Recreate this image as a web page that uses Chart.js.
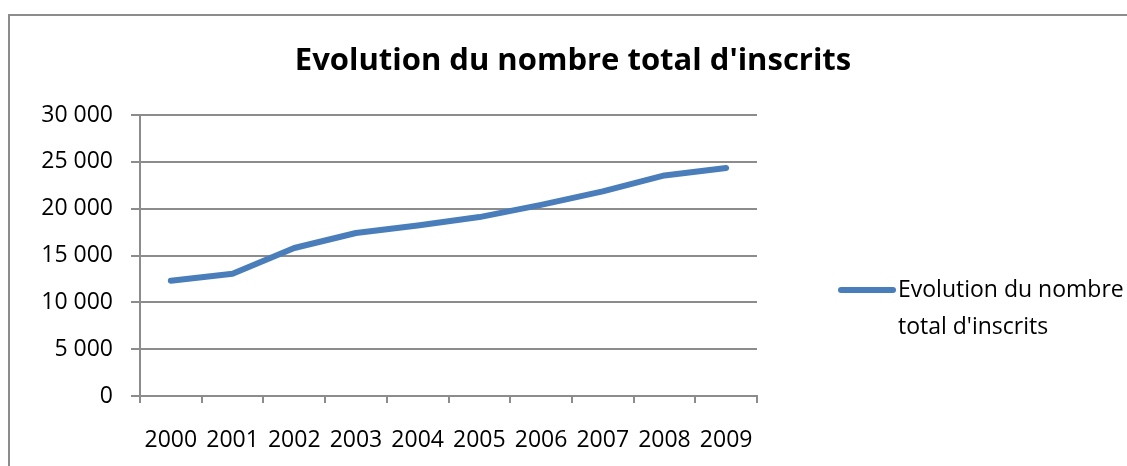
<!DOCTYPE html>
<html lang="fr">
    <head>
        <meta charset="UTF-8" />
        <title>Evolution du nombre total d'inscrits</title>
        <script src="https://cdn.jsdelivr.net/npm/chart.js"></script>
        <style>
            html, body { margin: 0; padding: 0; background: #fff; }
            #wrap { width: 1127px; height: 466px; }
        </style>
    </head>
    <body>
        <div id="wrap"><canvas id="myChart" width="1127" height="466"></canvas></div>

        <script>
            // Données
            const annees = ["2000", "2001", "2002", "2003", "2004", "2005", "2006", "2007", "2008", "2009"];
            const inscrits = [12300, 13050, 15800, 17400, 18200, 19100, 20400, 21850, 23550, 24350];
            const titre = "Evolution du nombre total d'inscrits";
            const legende = ["Evolution du nombre", "total d'inscrits"];

            const police = "'Open Sans', 'Noto Sans', sans-serif";
            const gris = "#8c8c8c";

            // cadre, titre et légende façon Excel
            const decor = {
                id: "decor",
                beforeDraw(chart) {
                    const c = chart.ctx;
                    c.save();
                    c.strokeStyle = gris;
                    c.lineWidth = 2;
                    c.strokeRect(9, 15, 1140, 470);
                    c.restore();
                },
                afterDraw(chart) {
                    const c = chart.ctx;
                    const ds = chart.data.datasets[0];
                    c.save();
                    c.fillStyle = "#000";
                    c.font = "bold 31px " + police;
                    c.textAlign = "center";
                    c.textBaseline = "middle";
                    c.fillText(titre, 573, 61);

                    c.strokeStyle = ds.borderColor;
                    c.lineWidth = ds.borderWidth;
                    c.lineCap = "round";
                    c.beginPath();
                    c.moveTo(841, 290);
                    c.lineTo(893, 290);
                    c.stroke();
                    c.font = "23px " + police;
                    c.textAlign = "left";
                    c.fillText(legende[0], 898, 290);
                    c.fillText(legende[1], 898, 327);
                    c.restore();
                },
            };

            var ctx = document.getElementById("myChart").getContext("2d");
            var myChart = new Chart(ctx, {
                type: "line",
                data: {
                    labels: annees,
                    datasets: [
                        {
                            label: titre,
                            data: inscrits,
                            borderColor: "#4a7ebb",
                            borderWidth: 6,
                            pointRadius: 0,
                            fill: false,
                            tension: 0,
                            borderCapStyle: "round",
                            borderJoinStyle: "round",
                        },
                    ],
                },
                plugins: [decor],
                options: {
                    responsive: false,
                    animation: false,
                    layout: { padding: { top: 115, left: 20, right: 370, bottom: 0 } },
                    plugins: {
                        legend: { display: false },
                        title: { display: false },
                        tooltip: { enabled: false },
                    },
                    scales: {
                        x: {
                            offset: true,
                            grid: {
                                offset: true,
                                drawOnChartArea: false,
                                color: gris,
                                lineWidth: 2,
                                tickLength: 7,
                            },
                            border: { color: gris, width: 2 },
                            ticks: {
                                color: "#000",
                                font: { family: police, size: 23 },
                                padding: 24,
                                maxRotation: 0,
                            },
                            afterFit(axis) {
                                axis.height = 70;
                            },
                        },
                        y: {
                            min: 0,
                            max: 30000,
                            ticks: {
                                stepSize: 5000,
                                color: "#000",
                                font: { family: police, size: 23 },
                                padding: 18,
                                callback: (v) => v.toLocaleString("fr-FR").replace(/\s/g, " "),
                            },
                            grid: { color: gris, lineWidth: 2, tickLength: 9 },
                            border: { color: gris, width: 2 },
                            afterFit(axis) {
                                axis.width = 120;
                            },
                        },
                    },
                },
            });
        </script>
    </body>
</html>
